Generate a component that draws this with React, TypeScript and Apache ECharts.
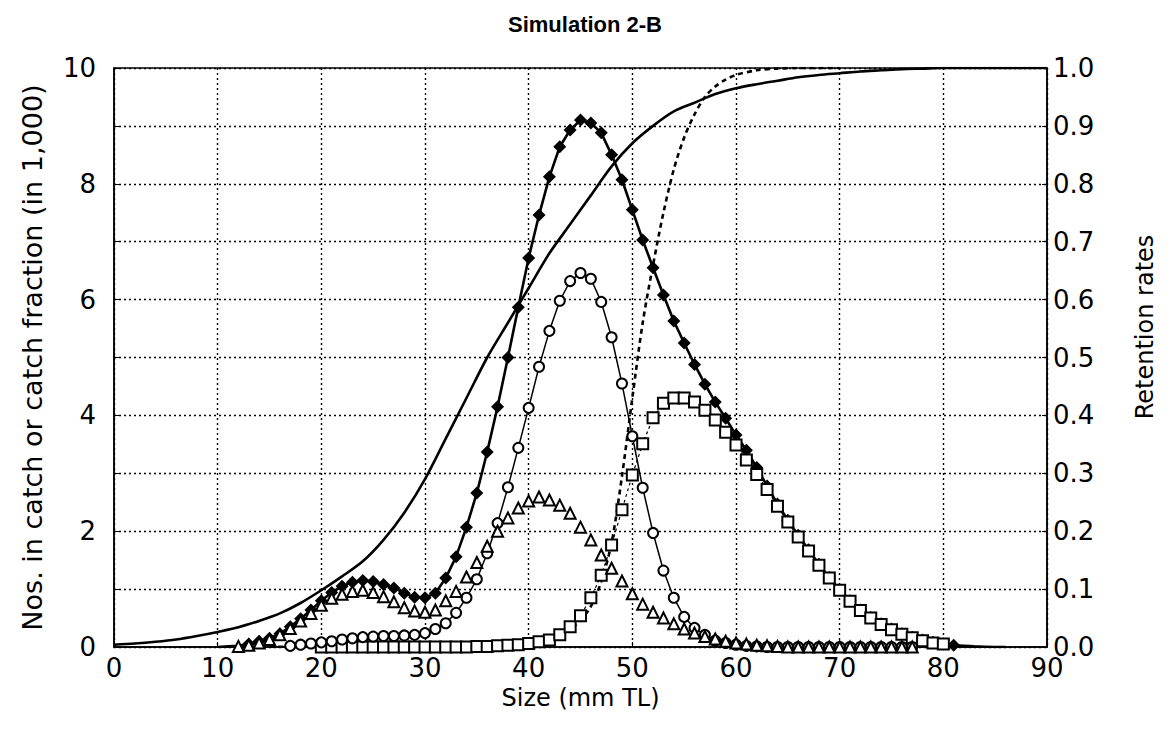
import React, { useEffect, useRef } from "react";
import * as echarts from "echarts";

// Size classes (mm TL) and catch values (in 1,000)
const totalStart = 10;
const totalCatch = [
  0.0, 0.01, 0.02, 0.05, 0.1, 0.15, 0.23, 0.35, 0.49, 0.64, // 10-19
  0.8, 0.94, 1.05, 1.12, 1.15, 1.13, 1.08, 1.02, 0.93, 0.86, // 20-29
  0.85, 0.93, 1.19, 1.56, 2.07, 2.66, 3.37, 4.15, 5.0, 5.87, // 30-39
  6.72, 7.46, 8.12, 8.64, 8.93, 9.1, 9.05, 8.88, 8.5, 8.07, // 40-49
  7.55, 7.03, 6.55, 6.08, 5.63, 5.25, 4.88, 4.54, 4.23, 3.95, // 50-59
  3.66, 3.4, 3.1, 2.78, 2.47, 2.19, 1.93, 1.68, 1.43, 1.2, // 60-69
  0.99, 0.8, 0.64, 0.51, 0.4, 0.31, 0.23, 0.17, 0.12, 0.08, // 70-79
  0.05, 0.03, 0.02, 0.01, 0.005, 0.0, 0.0, // 80-86
];

const circleStart = 17;
const circleCatch = [
  0.02, 0.04, 0.06, // 17-19
  0.08, 0.1, 0.13, 0.15, 0.17, 0.18, 0.19, 0.19, 0.2, 0.21, // 20-29
  0.24, 0.31, 0.41, 0.59, 0.85, 1.17, 1.62, 2.14, 2.76, 3.44, // 30-39
  4.13, 4.84, 5.46, 5.98, 6.32, 6.46, 6.36, 5.96, 5.35, 4.55, // 40-49
  3.64, 2.75, 1.97, 1.32, 0.85, 0.52, 0.33, 0.21, 0.11, 0.07, // 50-59
  0.04, 0.02, 0.01, 0, 0, 0, 0, 0, 0, 0, // 60-69
  0, 0, 0, 0, 0, 0, 0, 0, // 70-77
];

const triangleStart = 12;
const triangleCatch = [
  0.01, 0.03, 0.07, 0.13, 0.21, 0.32, 0.45, 0.58, // 12-19
  0.72, 0.84, 0.91, 0.96, 0.98, 0.94, 0.87, 0.78, 0.68, 0.62, // 20-29
  0.6, 0.64, 0.8, 0.96, 1.21, 1.46, 1.74, 2.0, 2.23, 2.4, // 30-39
  2.52, 2.59, 2.54, 2.45, 2.31, 2.07, 1.85, 1.59, 1.36, 1.14, // 40-49
  0.92, 0.74, 0.6, 0.5, 0.4, 0.31, 0.24, 0.18, 0.14, 0.1, // 50-59
  0.07, 0.05, 0.03, 0.02, 0.01, 0, 0, 0, 0, 0, // 60-69
  0, 0, 0, 0, 0, 0, 0, 0, // 70-77
];

const squareStart = 20;
const squareCatch = [
  0, 0, 0, 0, 0, 0, 0, 0, 0, 0, // 20-29
  0, 0, 0, 0, 0, 0.01, 0.01, 0.02, 0.03, 0.04, // 30-39
  0.06, 0.09, 0.12, 0.21, 0.35, 0.54, 0.85, 1.24, 1.76, 2.37, // 40-49
  2.97, 3.51, 3.96, 4.21, 4.3, 4.3, 4.23, 4.09, 3.92, 3.71, // 50-59
  3.49, 3.23, 2.98, 2.72, 2.43, 2.16, 1.9, 1.66, 1.41, 1.19, // 60-69
  0.98, 0.79, 0.63, 0.5, 0.39, 0.3, 0.22, 0.16, 0.11, 0.07, // 70-79
  0.05, // 80
];

// Retention rates (right axis)
const solidRetX = [0, 2, 4, 6, 8, 10, 12, 14, 16, 18, 20, 22, 24, 26, 28, 30, 32, 34, 36, 38, 40, 42, 44, 46, 48, 50, 52, 54, 56, 58, 60, 62, 64, 66, 68, 70, 72, 74, 76, 78, 80, 85, 90];
const solidRet = [0.004, 0.006, 0.009, 0.013, 0.019, 0.026, 0.034, 0.045, 0.058, 0.076, 0.098, 0.122, 0.148, 0.185, 0.232, 0.29, 0.36, 0.43, 0.5, 0.56, 0.62, 0.68, 0.73, 0.78, 0.83, 0.87, 0.9, 0.925, 0.94, 0.955, 0.965, 0.972, 0.978, 0.984, 0.988, 0.991, 0.994, 0.996, 0.998, 0.999, 1.0, 1.0, 1.0];

const dashedRetX = [15, 20, 25, 30, 34, 36, 38, 40, 41, 42, 43, 44, 45, 46, 47, 48, 49, 50, 51, 52, 53, 54, 55, 56, 57, 58, 59, 60, 62, 64, 66, 70];
const dashedRet = [0, 0.001, 0.002, 0.003, 0.004, 0.005, 0.007, 0.009, 0.011, 0.015, 0.021, 0.031, 0.046, 0.07, 0.113, 0.18, 0.295, 0.43, 0.56, 0.66, 0.75, 0.825, 0.88, 0.92, 0.95, 0.968, 0.98, 0.988, 0.996, 0.999, 1.0, 1.0];

const xTicks = [0, 10, 20, 30, 40, 50, 60, 70, 80, 90];

const pairs = (start: number, vals: number[]) => vals.map((v, i) => [start + i, v]);
const zipXY = (xs: number[], ys: number[]) => xs.map((x, i) => [x, ys[i]]);

const FONT = "DejaVu Sans";

export default function App() {
  const ref = useRef<HTMLDivElement>(null);
  useEffect(() => {
    if (!ref.current) return;
    const chart = echarts.init(ref.current, null, { renderer: "svg" });
    const dotted = { color: "#000", width: 1.4, type: [2, 3] as any };
    chart.setOption({
      animation: false,
      backgroundColor: "#fff",
      title: {
        text: "Simulation 2-B",
        left: 580,
        top: 8,
        textAlign: "center",
        textStyle: { fontFamily: "Liberation Sans", fontSize: 22, fontWeight: "bold", color: "#000" },
      },
      graphic: [
        {
          type: "text",
          x: 1145,
          y: 327,
          rotation: Math.PI / 2,
          style: {
            text: "Retention rates",
            fontFamily: FONT,
            fontSize: 24,
            fill: "#000",
            align: "center",
            verticalAlign: "middle",
          },
        },
      ],
      grid: {
        left: 114,
        right: 124,
        top: 68,
        bottom: 98,
        show: true,
        borderColor: "#000",
        borderWidth: 1.5,
        backgroundColor: "transparent",
      },
      xAxis: {
        type: "value",
        min: 0,
        max: 90,
        interval: 10,
        name: "Size (mm TL)",
        nameLocation: "middle",
        nameGap: 37,
        nameTextStyle: { fontFamily: FONT, fontSize: 24, color: "#000", verticalAlign: "top" },
        axisLine: { show: true, lineStyle: { color: "#000", width: 1.5 } },
        axisTick: { show: true, inside: true, length: 5, lineStyle: { color: "#000" } },
        axisLabel: { fontFamily: FONT, fontSize: 26, color: "#000", margin: 8, formatter: (v: number) => (xTicks.includes(v) ? String(v) : "") },
        splitLine: { show: true, lineStyle: dotted },
      },
      yAxis: [
        {
          type: "value",
          min: 0,
          max: 10,
          interval: 1,
          position: "left",
          name: "Nos. in catch or catch fraction (in 1,000)",
          nameLocation: "middle",
          nameGap: 68,
          nameRotate: 90,
          nameTextStyle: { fontFamily: FONT, fontSize: 27, color: "#000" },
          axisLine: { show: true, lineStyle: { color: "#000", width: 1.5 } },
          axisTick: { show: true, inside: true, length: 5, lineStyle: { color: "#000" } },
          axisLabel: {
            fontFamily: FONT,
            fontSize: 26,
            color: "#000",
            margin: 18,
            formatter: (v: number) => (Math.round(v) % 2 === 0 ? String(Math.round(v)) : ""),
          },
          splitLine: { show: true, lineStyle: dotted },
        },
        {
          type: "value",
          min: 0,
          max: 1,
          interval: 0.1,
          position: "right",
          axisLine: { show: true, lineStyle: { color: "#000", width: 1.5 } },
          axisTick: { show: true, inside: true, length: 5, lineStyle: { color: "#000" } },
          axisLabel: { fontFamily: FONT, fontSize: 26, color: "#000", margin: 6, formatter: (v: number) => v.toFixed(1) },
          splitLine: { show: false },
        },
      ],
      series: [
        {
          name: "Retention (solid)",
          type: "line",
          yAxisIndex: 1,
          data: zipXY(solidRetX, solidRet),
          smooth: 0.3,
          showSymbol: false,
          symbol: "none",
          lineStyle: { color: "#000", width: 2.6 },
          z: 2,
        },
        {
          name: "Retention (dashed)",
          type: "line",
          yAxisIndex: 1,
          data: zipXY(dashedRetX, dashedRet),
          smooth: 0.3,
          showSymbol: false,
          symbol: "none",
          lineStyle: { color: "#000", width: 2.6, type: [5, 4] },
          z: 2,
        },
        {
          name: "Total catch",
          type: "line",
          data: pairs(totalStart, totalCatch),
          symbol: (value: number[]) => (value[0] >= 13 && value[0] <= 81 ? "diamond" : "none"),
          symbolSize: 13,
          itemStyle: { color: "#000" },
          lineStyle: { color: "#000", width: 2.6 },
          z: 3,
        },
        {
          name: "Squares",
          type: "line",
          data: pairs(squareStart, squareCatch),
          symbol: "emptyRect",
          symbolSize: 11,
          itemStyle: { color: "#000", borderWidth: 1.5 },
          lineStyle: { color: "#000", width: 1.2, type: [3, 3] },
          z: 4,
        },
        {
          name: "Circles",
          type: "line",
          data: pairs(circleStart, circleCatch),
          symbol: "emptyCircle",
          symbolSize: 10,
          itemStyle: { color: "#000", borderWidth: 1.5 },
          lineStyle: { color: "#000", width: 1.5 },
          z: 5,
        },
        {
          name: "Triangles",
          type: "line",
          data: pairs(triangleStart, triangleCatch),
          symbol: "emptyTriangle",
          symbolSize: 11,
          itemStyle: { color: "#000", borderWidth: 1.5 },
          lineStyle: { color: "#000", width: 0, opacity: 0 },
          z: 6,
        },
      ],
    });
    return () => chart.dispose();
  }, []);
  return (
    <div
      ref={ref}
      style={{ position: "fixed", left: 0, top: 0, width: 1171, height: 745, background: "#fff" }}
    />
  );
}
